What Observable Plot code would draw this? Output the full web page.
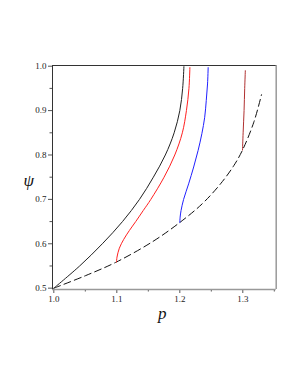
<!DOCTYPE html>
<html>
<head>
<meta charset="utf-8">
<script src="https://cdn.jsdelivr.net/npm/d3@7"></script>
<script src="https://cdn.jsdelivr.net/npm/@observablehq/plot@0.6"></script>
<style>
  html, body { margin: 0; padding: 0; background: #fff; }
  #chart { width: 298px; height: 385px; }
</style>
</head>
<body>
<div id="chart"></div>
<script>
// Curves: [p, psi]
const blackCurve = [[1.0,0.5],[1.041,0.55],[1.077,0.6],[1.109,0.65],[1.136,0.7],[1.158,0.75],[1.177,0.8],[1.191,0.85],[1.2,0.9],[1.2045,0.95],[1.2065,0.999]];
const redCurve = [[1.0995,0.559],[1.1003,0.57],[1.104,0.59],[1.111,0.61],[1.12,0.63],[1.13,0.65],[1.142,0.675],[1.154,0.70],[1.175,0.75],[1.192,0.8],[1.204,0.85],[1.2105,0.9],[1.2145,0.95],[1.216,0.997]];
const blueCurve = [[1.2,0.648],[1.2005,0.66],[1.202,0.675],[1.206,0.70],[1.214,0.735],[1.222,0.773],[1.229,0.81],[1.235,0.848],[1.2395,0.885],[1.242,0.923],[1.244,0.96],[1.245,0.997]];
const darkRedCurve = [[1.2995,0.811],[1.3005,0.85],[1.302,0.9],[1.303,0.95],[1.304,0.99]];
const dashedCurve = [[1.0,0.5],[1.05,0.528],[1.0995,0.559],[1.157,0.605],[1.2,0.648],[1.2355,0.69],[1.2646,0.735],[1.2857,0.776],[1.2995,0.811],[1.3175,0.874],[1.3297,0.936]];

const xTicks = [1.0, 1.1, 1.2, 1.3];
const xMinorTicks = [1.05, 1.15, 1.25, 1.35];
const yTicks = [0.5, 0.6, 0.7, 0.8, 0.9, 1.0];
const yMinorTicks = [0.55, 0.65, 0.75, 0.85, 0.95];
const xDomain = [0.9979, 1.3530];
const yDomain = [0.497, 1.0016];

const serif = "'Liberation Serif', 'DejaVu Serif', serif";

const chart = Plot.plot({
  width: 298,
  height: 385,
  marginLeft: 52,
  marginRight: 22.3,
  marginTop: 65,
  marginBottom: 96,
  style: { fontFamily: serif, fontSize: "9px", background: "#fff", color: "#222" },
  x: { domain: xDomain },
  y: { domain: yDomain },
  marks: [
    Plot.axisX(xTicks, { tickSize: 4, tickPadding: 2, tickFormat: d3.format(".1f"), label: null, stroke: "#555", fontSize: 9 }),
    Plot.axisX(xMinorTicks, { tickSize: 2.5, tickFormat: () => "", label: null, stroke: "#555" }),
    Plot.axisY(yTicks, { tickSize: 4, tickPadding: 2, tickFormat: d3.format(".1f"), label: null, stroke: "#555", fontSize: 9 }),
    Plot.axisY(yMinorTicks, { tickSize: 2.5, tickFormat: () => "", label: null, stroke: "#555" }),
    Plot.ruleY([yDomain[0]], { stroke: "#999", strokeWidth: 1.5 }),
    Plot.ruleX([xDomain[1]], { stroke: "#999", strokeWidth: 1.5 }),
    Plot.ruleY([yDomain[1]], { stroke: "#333", strokeWidth: 1 }),
    Plot.ruleX([xDomain[0]], { stroke: "#333", strokeWidth: 1 }),
    Plot.line(dashedCurve, { x: d => d[0], y: d => d[1], stroke: "#111", strokeWidth: 1, strokeDasharray: "7,4", curve: "catmull-rom" }),
    Plot.line(blackCurve, { x: d => d[0], y: d => d[1], stroke: "#222", strokeWidth: 1, curve: "catmull-rom" }),
    Plot.line(redCurve, { x: d => d[0], y: d => d[1], stroke: "#ff2020", strokeWidth: 1, curve: "catmull-rom" }),
    Plot.line(blueCurve, { x: d => d[0], y: d => d[1], stroke: "#2020ff", strokeWidth: 1, curve: "catmull-rom" }),
    Plot.line(darkRedCurve, { x: d => d[0], y: d => d[1], stroke: "#b03030", strokeWidth: 1, curve: "catmull-rom" }),
    Plot.text(["ψ"], { frameAnchor: "left", dx: -29, dy: 3, fontSize: 17, fontStyle: "italic", fontFamily: serif, fill: "#111" }),
    Plot.text(["p"], { frameAnchor: "bottom", dx: -2, dy: 29, fontSize: 17, fontStyle: "italic", fontFamily: serif, fill: "#111" })
  ]
});
document.getElementById("chart").appendChild(chart);
</script>
</body>
</html>
